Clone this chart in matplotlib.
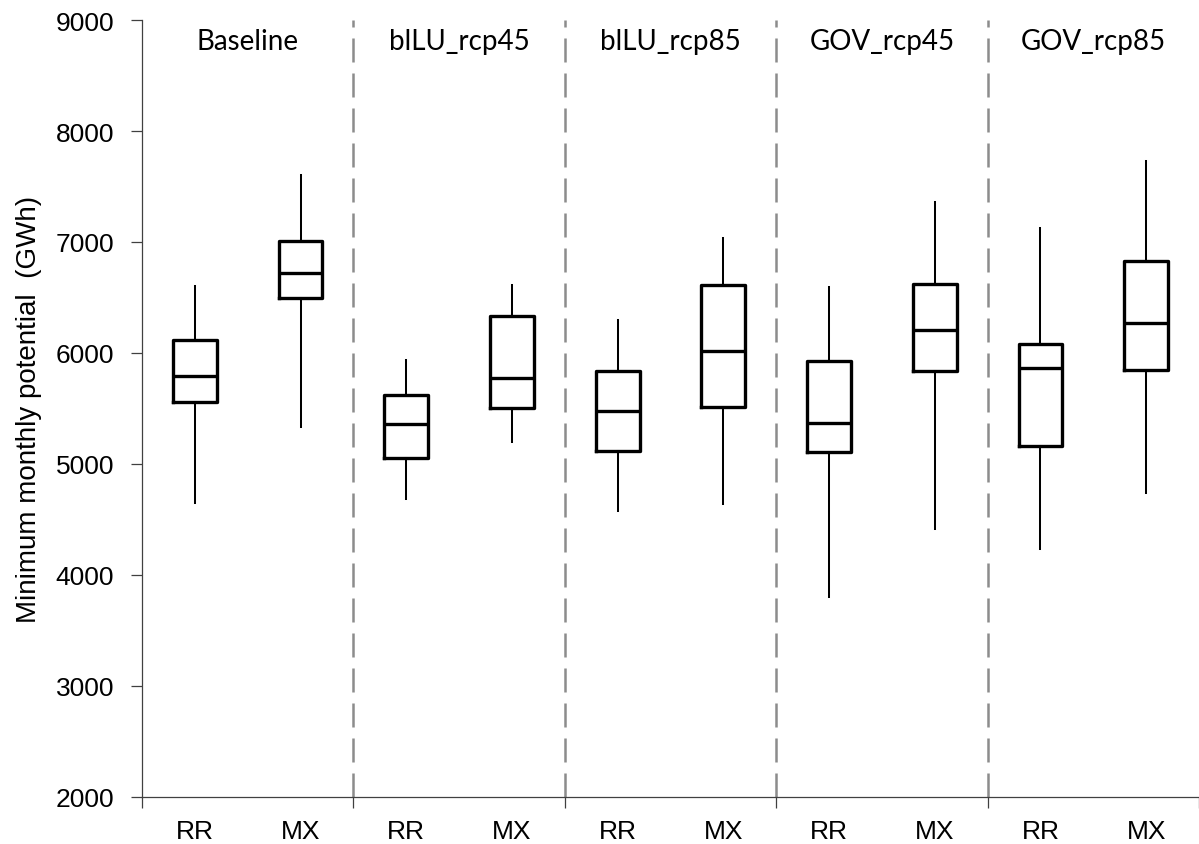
import matplotlib
matplotlib.use("Agg")
import matplotlib.pyplot as plt
import numpy as np

# scenario groups and the two series in each
groups = ["Baseline", "blLU_rcp45", "blLU_rcp85", "GOV_rcp45", "GOV_rcp85"]
series = ["RR", "MX"]

# box statistics, one entry per box (RR, MX for each group)
whislo = [4650, 5335, 4680, 5200, 4572, 4635, 3797, 4413, 4230, 4740]
q1 = [5560, 6494, 5050, 5500, 5115, 5509, 5104, 5836, 5160, 5850]
med = [5790, 6717, 5360, 5770, 5473, 6014, 5371, 6203, 5860, 6270]
q3 = [6120, 7010, 5620, 6330, 5836, 6610, 5929, 6620, 6080, 6830]
whishi = [6600, 7600, 5940, 6610, 6299, 7040, 6590, 7360, 7130, 7730]

box_labels = [s for g in groups for s in series]

fig = plt.figure(figsize=(11.99, 8.45), dpi=100)
ax = fig.add_axes([0.1184, 0.056, 0.8816, 0.919])

stats = []
for i in range(len(box_labels)):
    stats.append({"whislo": whislo[i], "q1": q1[i], "med": med[i],
                  "q3": q3[i], "whishi": whishi[i], "label": box_labels[i]})

positions = np.arange(len(box_labels)) + 0.5
ax.bxp(stats, positions=positions, widths=0.415, showfliers=False,
       showcaps=False,
       boxprops=dict(color="black", linewidth=2.4),
       medianprops=dict(color="black", linewidth=2.4),
       whiskerprops=dict(color="black", linewidth=1.45))

# dashed separators between groups
for k in range(1, len(groups)):
    ax.axvline(k * 2, color="#8c8c8c", linewidth=1.8,
               linestyle=(0, (9.6, 4.4)), clip_on=False, zorder=0)

# group titles
for k, g in enumerate(groups):
    ax.text(k * 2 + 1, 0.973, g, transform=ax.get_xaxis_transform(),
            ha="center", va="center", fontsize=20, family="Lato")

ax.set_xlim(0, len(box_labels))
ax.set_ylim(2000, 9000)
ax.set_yticks(np.arange(2000, 9001, 1000))

ax.set_xticks(np.arange(0, len(box_labels) + 1, 2))
ax.set_xticklabels([])
ax.set_xticks(positions, minor=True)
ax.set_xticklabels(box_labels, minor=True)
ax.tick_params(axis="x", which="major", length=8, width=0.9, color="#404040")
ax.tick_params(axis="x", which="minor", length=0, pad=16, labelsize=19)
ax.tick_params(axis="y", length=8, width=0.9, color="#404040", pad=12, labelsize=19)
for lab in ax.get_xticklabels(minor=True) + ax.get_yticklabels():
    lab.set_family("Liberation Sans")

ax.set_ylabel("Minimum monthly potential  (GWh)", fontsize=20,
              family="Liberation Sans", labelpad=10)

for side in ["top", "right"]:
    ax.spines[side].set_visible(False)
for side in ["left", "bottom"]:
    ax.spines[side].set_color("#404040")
    ax.spines[side].set_linewidth(0.9)

fig.savefig("out.png", dpi=100)
plt.close(fig)
